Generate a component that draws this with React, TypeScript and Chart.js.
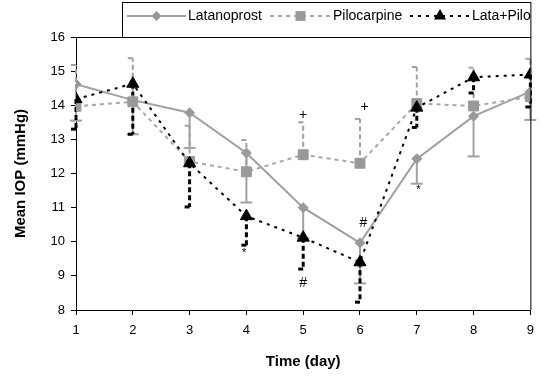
import React, { useEffect, useRef } from 'react';
import { Chart, registerables } from 'chart.js';

Chart.register(...registerables);

const days = [1, 2, 3, 4, 5, 6, 7, 8, 9];
const yTicks = [8, 9, 10, 11, 12, 13, 14, 15, 16];

const latanoprost = [14.62, 14.15, 13.78, 12.6, 11.0, 9.97, 12.43, 13.68, 14.4];
const latanoprostLow = [13.55, 13.15, 12.75, 11.15, 10.1, 8.78, 11.7, 12.5, 13.57];

const pilocarpine = [13.97, 14.1, 12.35, 12.05, 12.55, 12.3, 14.05, 13.98, 14.25];
const pilocarpineHigh = [15.18, 15.38, 13.4, 12.98, 13.5, 13.6, 15.12, 15.1, 15.36];

const lataPilo = [14.18, 14.63, 12.3, 10.75, 10.12, 9.4, 13.93, 14.82, 14.9];
const lataPiloLow = [13.3, 13.15, 11.02, 9.9, 9.2, 8.23, 13.35, 14.36, 13.95];

const noteText = ['+', '+', '#', '#', '*', '*'];
const noteDay = [5.0, 6.08, 6.06, 5.0, 3.96, 7.03];
const noteValue = [13.71, 13.95, 10.55, 8.79, 9.67, 11.52];

const seriesNames = ['Latanoprost', 'Pilocarpine', 'Lata+Pilo'];

const FONT = 'Arial, "Liberation Sans", sans-serif';

const toPoints = (vals: number[]) => days.map((d, i) => ({ x: d, y: vals[i] }));

function drawMarker(ctx: CanvasRenderingContext2D, style: string, x: number, y: number, r: number) {
  ctx.beginPath();
  if (style === 'rectRot') {
    ctx.moveTo(x, y - r);
    ctx.lineTo(x + r, y);
    ctx.lineTo(x, y + r);
    ctx.lineTo(x - r, y);
  } else if (style === 'rect') {
    const s = Math.SQRT1_2 * r;
    ctx.rect(x - s, y - s, 2 * s, 2 * s);
  } else {
    ctx.moveTo(x, y - r);
    ctx.lineTo(x + r * Math.sin(Math.PI * 2 / 3), y + r / 2);
    ctx.lineTo(x - r * Math.sin(Math.PI * 2 / 3), y + r / 2);
  }
  ctx.closePath();
  ctx.fill();
}

const errorPlugin = {
  id: 'errorBars',
  beforeDatasetsDraw(chart: any) {
    const ctx = chart.ctx;
    const xs = chart.scales.x;
    const ys = chart.scales.y;
    chart.data.datasets.forEach((ds: any) => {
      const eb = ds.errorBar;
      if (!eb) return;
      ctx.save();
      ctx.strokeStyle = eb.color;
      ctx.lineWidth = eb.width;
      ctx.setLineDash(eb.dash);
      ds.data.forEach((p: any, i: number) => {
        const x = xs.getPixelForValue(p.x);
        const y0 = ys.getPixelForValue(p.y);
        const y1 = ys.getPixelForValue(eb.ends[i]);
        ctx.beginPath();
        ctx.moveTo(x, y0);
        ctx.lineTo(x, y1);
        ctx.stroke();
        ctx.beginPath();
        if (eb.cap === 'full') {
          ctx.moveTo(x - 6, y1);
          ctx.lineTo(x + 6, y1);
        } else {
          ctx.moveTo(x - 5, y1);
          ctx.lineTo(x + 1, y1);
        }
        ctx.stroke();
      });
      ctx.restore();
    });
  },
  afterDatasetsDraw(chart: any) {
    const ctx = chart.ctx;
    const xs = chart.scales.x;
    const ys = chart.scales.y;
    ctx.save();
    ctx.fillStyle = '#000';
    ctx.textAlign = 'center';
    ctx.textBaseline = 'middle';
    noteText.forEach((t, i) => {
      ctx.font = t === '*' ? `11px ${FONT}` : `14px ${FONT}`;
      ctx.fillText(t, xs.getPixelForValue(noteDay[i]), ys.getPixelForValue(noteValue[i]));
    });
    ctx.restore();
  },
  afterDraw(chart: any) {
    const ctx = chart.ctx;
    const a = chart.chartArea;
    ctx.save();
    ctx.strokeStyle = '#000';
    ctx.lineWidth = 1;
    ctx.beginPath();
    ctx.moveTo(a.left, a.top + 0.5);
    ctx.lineTo(a.right + 0.5, a.top + 0.5);
    ctx.lineTo(a.right + 0.5, a.bottom);
    ctx.stroke();
    // legend box
    const lx = 122.5, ly = 2.5, lw = a.right - 122, lh = a.top - 2;
    ctx.fillStyle = '#fff';
    ctx.fillRect(lx, ly, lw, lh);
    ctx.strokeRect(lx, ly, lw, lh);
    const items = [
      { x0: 127, x1: 186, tx: 188 },
      { x0: 270, x1: 331, tx: 333 },
      { x0: 410, x1: 470, tx: 472 },
    ];
    const ly0 = 16;
    chart.data.datasets.forEach((ds: any, i: number) => {
      const it = items[i];
      ctx.save();
      ctx.strokeStyle = ds.borderColor;
      ctx.lineWidth = ds.borderWidth;
      ctx.setLineDash(ds.borderDash || []);
      ctx.beginPath();
      ctx.moveTo(it.x0, ly0);
      ctx.lineTo(it.x1, ly0);
      ctx.stroke();
      ctx.restore();
      const mx = (it.x0 + it.x1) / 2;
      ctx.save();
      ctx.fillStyle = ds.pointBackgroundColor;
      drawMarker(ctx, ds.pointStyle, mx, ly0, ds.pointRadius);
      ctx.restore();
      ctx.fillStyle = '#000';
      ctx.font = `14px ${FONT}`;
      ctx.textAlign = 'left';
      ctx.textBaseline = 'middle';
      ctx.fillText(seriesNames[i], it.tx, ly0);
    });
    ctx.restore();
  },
};

export default function App() {
  const ref = useRef<HTMLCanvasElement | null>(null);
  useEffect(() => {
    if (!ref.current) return;
    const chart = new Chart(ref.current, {
      type: 'line',
      data: {
        datasets: [
          {
            label: seriesNames[0],
            data: toPoints(latanoprost),
            borderColor: '#a0a0a0',
            borderWidth: 2,
            borderDash: [],
            pointStyle: 'rectRot',
            pointRadius: 5,
            pointBackgroundColor: '#999999',
            pointBorderColor: '#999999',
            pointBorderWidth: 1,
            order: 2,
            errorBar: { ends: latanoprostLow, color: '#a0a0a0', width: 2, dash: [], cap: 'full' },
          } as any,
          {
            label: seriesNames[1],
            data: toPoints(pilocarpine),
            borderColor: '#a8a8a8',
            borderWidth: 2,
            borderDash: [4, 4],
            pointStyle: 'rect',
            pointRadius: 7,
            pointBackgroundColor: '#999999',
            pointBorderColor: '#999999',
            pointBorderWidth: 1,
            order: 1,
            errorBar: { ends: pilocarpineHigh, color: '#a0a0a0', width: 2, dash: [5, 3], cap: 'half' },
          } as any,
          {
            label: seriesNames[2],
            data: toPoints(lataPilo),
            borderColor: '#000000',
            borderWidth: 2,
            borderDash: [3, 5],
            pointStyle: 'triangle',
            pointRadius: 7,
            pointBackgroundColor: '#000000',
            pointBorderColor: '#000000',
            pointBorderWidth: 1,
            order: 0,
            errorBar: { ends: lataPiloLow, color: '#000000', width: 3, dash: [5, 3], cap: 'half' },
          } as any,
        ],
      },
      options: {
        animation: false,
        responsive: true,
        maintainAspectRatio: false,
        layout: { padding: { top: 37, right: 6, left: 0, bottom: 0 } },
        plugins: { legend: { display: false }, tooltip: { enabled: false } },
        elements: { line: { tension: 0 } },
        scales: {
          x: {
            type: 'linear',
            min: 1,
            max: 9,
            afterFit: (s: any) => { s.height = 66; },
            afterBuildTicks: (s: any) => { s.ticks = days.map((v) => ({ value: v })); },
            ticks: { color: '#000', font: { family: FONT, size: 13 }, padding: 8, maxRotation: 0 },
            grid: { drawOnChartArea: false, tickLength: 5, color: '#000' },
            border: { color: '#000', width: 1 },
            title: { display: true, text: 'Time (day)', color: '#000', font: { family: FONT, size: 15, weight: 'bold' }, padding: { top: 0, bottom: 5 } },
          },
          y: {
            type: 'linear',
            min: 8,
            max: 16,
            afterFit: (s: any) => { s.width = 76; },
            afterBuildTicks: (s: any) => { s.ticks = yTicks.map((v) => ({ value: v })); },
            ticks: { color: '#000', font: { family: FONT, size: 13 }, padding: 6 },
            grid: { drawOnChartArea: false, tickLength: 5, color: '#000' },
            border: { color: '#000', width: 1 },
            title: { display: true, text: 'Mean IOP (mmHg)', color: '#000', font: { family: FONT, size: 15, weight: 'bold' }, padding: { top: 12, bottom: 0 } },
          },
        },
      },
      plugins: [errorPlugin],
    } as any);
    return () => chart.destroy();
  }, []);
  return (
    <div style={{ position: 'fixed', left: 0, top: 0, width: 542, height: 376, background: '#fff' }}>
      <canvas ref={ref} />
    </div>
  );
}
